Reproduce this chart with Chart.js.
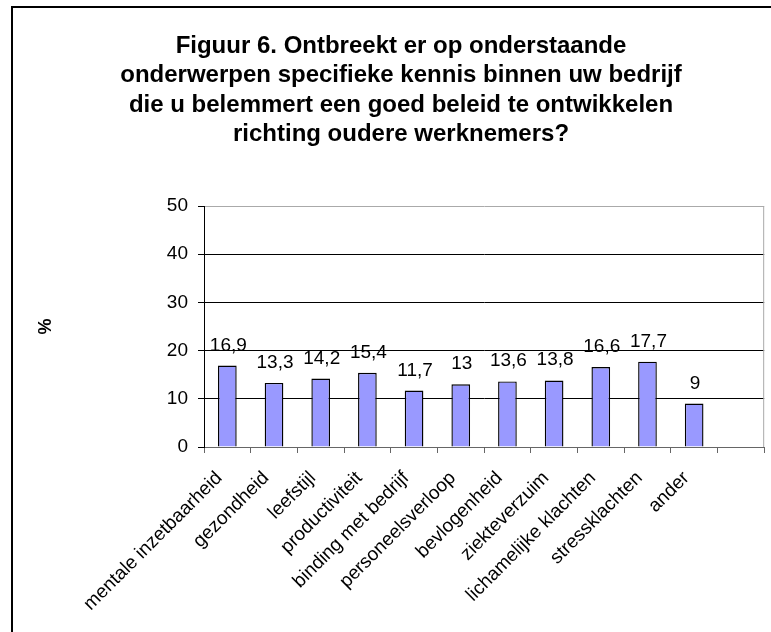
<!DOCTYPE html>
<html>
<head>
<meta charset="utf-8">
<script src="https://cdn.jsdelivr.net/npm/chart.js@4/dist/chart.umd.min.js"></script>
<style>
	html, body { margin: 0; padding: 0; background: #fff; }
	#wrap { width: 771px; height: 632px; }
</style>
</head>
<body>
<div id="wrap"><canvas id="kennisChart" width="771" height="632"></canvas></div>
<script>
// onderwerpen (laatste categorie is een lege plek, zoals in het origineel)
const categories = ['mentale inzetbaarheid', 'gezondheid', 'leefstijl', 'productiviteit',
	'binding met bedrijf', 'personeelsverloop', 'bevlogenheid', 'ziekteverzuim',
	'lichamelijke klachten', 'stressklachten', 'ander', ''];
const percentages = [16.9, 13.3, 14.2, 15.4, 11.7, 13, 13.6, 13.8, 16.6, 17.7, 9, null];
const yTicks = [0, 10, 20, 30, 40, 50];
const titleLines = [
	'Figuur 6. Ontbreekt er op onderstaande',
	'onderwerpen specifieke kennis binnen uw bedrijf',
	'die u belemmert een goed beleid te ontwikkelen',
	'richting oudere werknemers?'
];

document.addEventListener('DOMContentLoaded', () => {
	const canvas = document.getElementById('kennisChart');
	const fam = '"Liberation Sans", Arial, sans-serif';

	// kader, titel en plotrand
	const framePlugin = {
		id: 'frame',
		beforeDraw(chart) {
			const ctx = chart.ctx;
			ctx.save();
			ctx.fillStyle = '#fff';
			ctx.fillRect(0, 0, chart.width, chart.height);
			ctx.strokeStyle = '#000';
			ctx.lineWidth = 2;
			ctx.strokeRect(12, 7, 900, 800);
			ctx.fillStyle = '#000';
			ctx.font = 'bold 24px ' + fam;
			ctx.textAlign = 'center';
			ctx.textBaseline = 'alphabetic';
			const baselines = [53, 82, 112, 141];
			titleLines.forEach((line, i) => ctx.fillText(line, 401, baselines[i]));
			ctx.restore();
		},
		afterDraw(chart) {
			const {ctx, chartArea} = chart;
			ctx.save();
			ctx.strokeStyle = '#aaa';
			ctx.lineWidth = 1;
			ctx.beginPath();
			ctx.moveTo(chartArea.right - 0.5, chartArea.top);
			ctx.lineTo(chartArea.right - 0.5, chartArea.bottom);
			ctx.stroke();
			ctx.restore();
		}
	};

	// waarden boven de staven
	const valueLabels = {
		id: 'valueLabels',
		afterDatasetsDraw(chart) {
			const ctx = chart.ctx;
			const meta = chart.getDatasetMeta(0);
			ctx.save();
			ctx.fillStyle = '#000';
			ctx.font = '19px ' + fam;
			ctx.textAlign = 'center';
			ctx.textBaseline = 'alphabetic';
			meta.data.forEach((bar, i) => {
				const v = percentages[i];
				if (v === null) return;
				ctx.fillText(String(v).replace('.', ','), bar.x + 1, bar.y - 15);
			});
			ctx.restore();
		}
	};

	new Chart(canvas.getContext('2d'), {
		type: 'bar',
		data: {
			labels: categories,
			datasets: [{
				data: percentages,
				backgroundColor: '#9999ff',
				borderColor: '#000',
				borderWidth: 1.4,
				categoryPercentage: 1,
				barPercentage: 0.4
			}]
		},
		options: {
			responsive: false,
			animation: false,
			layout: { padding: { left: 12, top: 206, right: 1, bottom: 0 } },
			plugins: {
				legend: { display: false },
				tooltip: { enabled: false }
			},
			scales: {
				x: {
					afterFit(scale) { scale.height = 185; },
					grid: {
						drawOnChartArea: false,
						drawTicks: true,
						tickLength: 6,
						color: '#666',
						offset: true
					},
					border: { color: '#666', width: 1 },
					ticks: {
						autoSkip: false,
						minRotation: 45,
						maxRotation: 45,
						padding: 14,
						labelOffset: -8,
						color: '#000',
						font: { family: fam, size: 19 }
					}
				},
				y: {
					min: 0,
					max: 50,
					afterFit(scale) { scale.width = 192; },
					afterBuildTicks(scale) { scale.ticks = yTicks.map(v => ({ value: v })); },
					grid: {
						color: (c) => (c.tick && c.tick.value === 50 ? '#aaa' : '#000'),
						tickLength: 6,
						tickColor: '#000'
					},
					border: { color: '#000', width: 1 },
					ticks: {
						padding: 10,
						color: '#000',
						font: { family: fam, size: 19 }
					},
					title: {
						display: true,
						text: '%',
						color: '#000',
						padding: { top: 23, bottom: 0 },
						font: { family: fam, size: 18, weight: 'bold' }
					}
				}
			}
		},
		plugins: [framePlugin, valueLabels]
	});
});
</script>
</body>
</html>
